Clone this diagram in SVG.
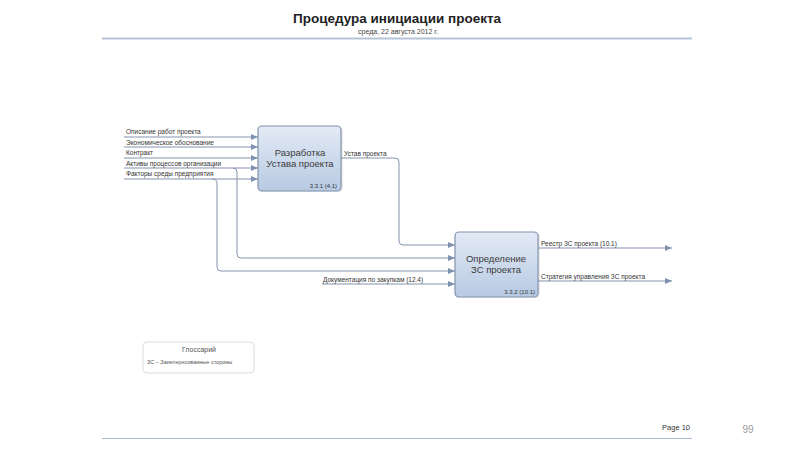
<svg xmlns="http://www.w3.org/2000/svg" width="800" height="450" viewBox="0 0 800 450">
<defs>
<linearGradient id="g" x1="0" y1="0" x2="0" y2="1">
<stop offset="0" stop-color="#e3eaf5"/>
<stop offset="1" stop-color="#b7cae3"/>
</linearGradient>
<marker id="a" markerWidth="7" markerHeight="6" refX="7" refY="3" orient="auto" markerUnits="userSpaceOnUse">
<path d="M0,0 L7,3 L0,6 z" fill="#7e92b0"/>
</marker>
<style>
text{font-family:"Liberation Sans",Arial,sans-serif;fill:#333}
.lbl{font-size:6.5px}
.box{fill:url(#g);stroke:#8293ad;stroke-width:1.2}
.bt{font-size:9.5px;fill:#3a3a3a}
.num{font-size:6px}
.c{fill:none;stroke:#8393ad;stroke-width:1}
</style>
</defs>
<rect width="800" height="450" fill="#fff"/>
<text x="397" y="23" text-anchor="middle" font-size="13.5" font-weight="bold" style="fill:#222">Процедура инициации проекта</text>
<text x="398" y="34" text-anchor="middle" font-size="7" style="fill:#444">среда, 22 августа 2012 г.</text>
<line x1="102" y1="38.5" x2="692" y2="38.5" stroke="#b4c3d6" stroke-width="2"/>

<g id="connectors">
<path class="c" d="M124 137 H258" marker-end="url(#a)"/>
<path class="c" d="M124 147 H258" marker-end="url(#a)"/>
<path class="c" d="M124 158 H258" marker-end="url(#a)"/>
<path class="c" d="M124 168 H258" marker-end="url(#a)"/>
<path class="c" d="M124 179 H258" marker-end="url(#a)"/>
<path class="c" d="M233 168 Q237 168 237 172 V254 Q237 258 241 258 H455" marker-end="url(#a)"/>
<path class="c" d="M212 179 Q217 179 217 183 V267 Q217 271 221 271 H455" marker-end="url(#a)"/>
<path class="c" d="M341 158 H395 Q399 158 399 162 V241 Q399 245 403 245 H455" marker-end="url(#a)"/>
<path class="c" d="M322 284 H455" marker-end="url(#a)"/>
<path class="c" d="M538 248 H672" marker-end="url(#a)"/>
<path class="c" d="M538 281 H672" marker-end="url(#a)"/>
<text class="lbl" x="126" y="134">Описание работ проекта</text>
<text class="lbl" x="126" y="144.5">Экономическое обоснование</text>
<text class="lbl" x="126" y="155">Контракт</text>
<text class="lbl" x="126" y="165.5">Активы процессов организации</text>
<text class="lbl" x="126" y="176">Факторы среды предприятия</text>
<text class="lbl" x="344" y="155.5">Устав проекта</text>
<text class="lbl" x="323" y="281.5">Документация по закупкам (12.4)</text>
<text class="lbl" x="541" y="245.5">Реестр ЗС проекта (10.1)</text>
<text class="lbl" x="541" y="278.5">Стратегия управления ЗС проекта</text>
</g>

<g id="node1">
<rect x="259" y="127" width="84" height="65" rx="4" fill="#000" opacity="0.08"/>
<rect class="box" x="258" y="126" width="83" height="65" rx="4"/>
<text class="bt" x="300" y="156" text-anchor="middle">Разработка</text>
<text class="bt" x="300" y="167" text-anchor="middle">Устава проекта</text>
<text class="num" x="337" y="188" text-anchor="end">3.3.1 (4.1)</text>
</g>

<g id="node2">
<rect x="456" y="233" width="84" height="65" rx="4" fill="#000" opacity="0.08"/>
<rect class="box" x="455" y="232" width="83" height="65" rx="4"/>
<text class="bt" x="496" y="262" text-anchor="middle">Определение</text>
<text class="bt" x="496" y="273" text-anchor="middle">ЗС проекта</text>
<text class="num" x="535" y="294" text-anchor="end">3.3.2 (10.1)</text>
</g>

<g id="glossary">
<rect x="143" y="342" width="111" height="31" rx="4" fill="#fff" stroke="#dcdcdc" stroke-width="1"/>
<text x="199" y="352" text-anchor="middle" font-size="7" style="fill:#555">Глоссарий</text>
<text x="147" y="364" font-size="5.5" style="fill:#555">ЗС – Заинтересованные стороны</text>
</g>

<line x1="102" y1="438.5" x2="692" y2="438.5" stroke="#aabbd3" stroke-width="1"/>
<text x="690" y="430" text-anchor="end" font-size="7.5" style="fill:#333">Page 10</text>
<text x="748" y="433" text-anchor="middle" font-size="10" style="fill:#999">99</text>
</svg>
